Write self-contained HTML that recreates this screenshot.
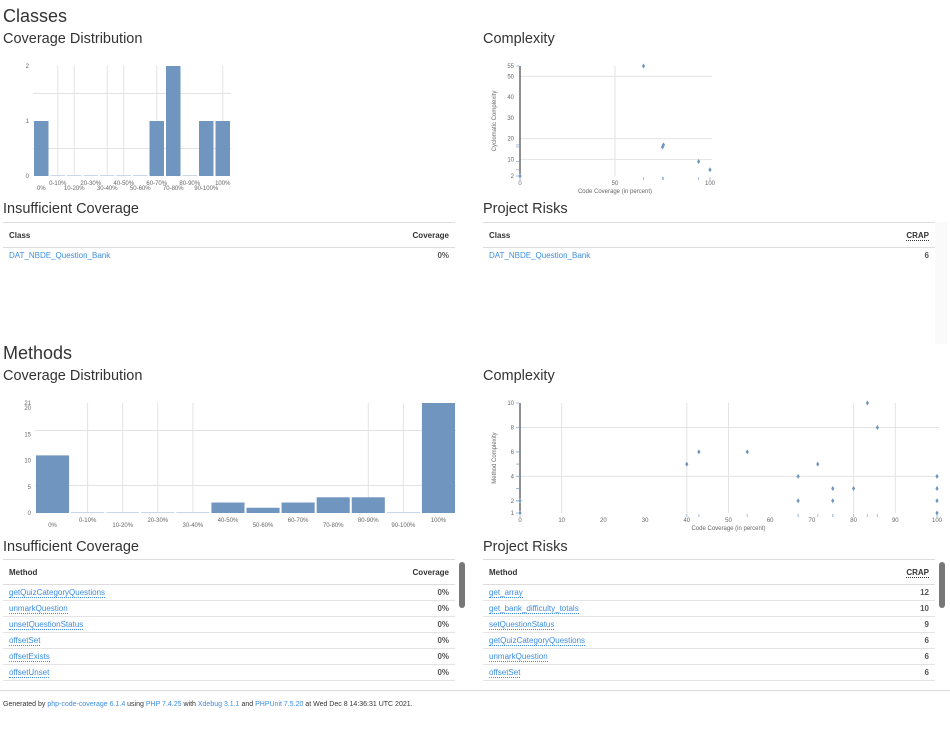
<!DOCTYPE html>
<html><head><meta charset="utf-8">
<style>
body{margin:0;width:950px;height:730px;background:#fff;font-family:"Liberation Sans",sans-serif;color:#333;position:relative;overflow:hidden}
.a{position:absolute;white-space:nowrap}
h2,h3{margin:0;font-weight:normal}
.h2{font-size:18px}
.h3{font-size:14.5px}
table{border-collapse:collapse;font-size:8px;position:absolute}
th{font-weight:bold;text-align:left;height:24px;padding:0 6px;border-top:1px solid #ddd;border-bottom:1px solid #ddd}
td{height:15px;padding:0 6px;border-bottom:1px solid #e4e4e4}
td.r,th.r{text-align:right}
a{color:#3c8ee3;text-decoration:none}
.dot a{border-bottom:1px dotted #3c8ee3}
.v{font-weight:bold;color:#555}
.sb{position:absolute;width:6px;height:46px;background:#777;border-radius:3px}
svg text{font-family:"Liberation Sans",sans-serif;fill:#666}
</style></head><body>
<div class="a h2" style="left:3px;top:6px">Classes</div>
<div class="a h3" style="left:3px;top:31px">Coverage Distribution</div>
<div class="a h3" style="left:483px;top:31px">Complexity</div>
<div class="a h3" style="left:3px;top:201px">Insufficient Coverage</div>
<div class="a h3" style="left:483px;top:201px">Project Risks</div>
<div class="a h2" style="left:3px;top:343px">Methods</div>
<div class="a h3" style="left:3px;top:368px">Coverage Distribution</div>
<div class="a h3" style="left:483px;top:368px">Complexity</div>
<div class="a h3" style="left:3px;top:539px">Insufficient Coverage</div>
<div class="a h3" style="left:483px;top:539px">Project Risks</div>

<table style="left:3px;top:222px;width:452px">
<tr><th>Class</th><th class="r">Coverage</th></tr>
<tr><td style="border:0"><a href="#">DAT_NBDE_Question_Bank</a></td><td class="r v" style="border:0">0%</td></tr>
</table>
<table style="left:483px;top:222px;width:452px">
<tr><th>Class</th><th class="r"><span style="border-bottom:1px dotted #333">CRAP</span></th></tr>
<tr><td style="border:0"><a href="#">DAT_NBDE_Question_Bank</a></td><td class="r v" style="border:0">6</td></tr>
</table>
<div class="a" style="left:935px;top:222px;width:12px;height:122px;background:#fafafa"></div>

<table style="left:3px;top:559px;width:452px">
<tr><th>Method</th><th class="r">Coverage</th></tr>
<tr class="dot"><td><a href="#">getQuizCategoryQuestions</a></td><td class="r v">0%</td></tr>
<tr class="dot"><td><a href="#">unmarkQuestion</a></td><td class="r v">0%</td></tr>
<tr class="dot"><td><a href="#">unsetQuestionStatus</a></td><td class="r v">0%</td></tr>
<tr class="dot"><td><a href="#">offsetSet</a></td><td class="r v">0%</td></tr>
<tr class="dot"><td><a href="#">offsetExists</a></td><td class="r v">0%</td></tr>
<tr class="dot"><td><a href="#">offsetUnset</a></td><td class="r v">0%</td></tr>
</table>
<div class="sb" style="left:459px;top:562px"></div>
<table style="left:483px;top:559px;width:452px">
<tr><th>Method</th><th class="r"><span style="border-bottom:1px dotted #333">CRAP</span></th></tr>
<tr class="dot"><td><a href="#">get_array</a></td><td class="r v">12</td></tr>
<tr class="dot"><td><a href="#">get_bank_difficulty_totals</a></td><td class="r v">10</td></tr>
<tr class="dot"><td><a href="#">setQuestionStatus</a></td><td class="r v">9</td></tr>
<tr class="dot"><td><a href="#">getQuizCategoryQuestions</a></td><td class="r v">6</td></tr>
<tr class="dot"><td><a href="#">unmarkQuestion</a></td><td class="r v">6</td></tr>
<tr class="dot"><td><a href="#">offsetSet</a></td><td class="r v">6</td></tr>
</table>
<div class="sb" style="left:939px;top:562px"></div>

<div class="a" style="left:0;top:690px;width:950px;border-top:1px solid #ddd"></div>
<div class="a" style="left:3px;top:701px;font-size:7px;color:#333">Generated by <a href="#">php-code-coverage 6.1.4</a> using <a href="#">PHP 7.4.25</a> with <a href="#">Xdebug 3.1.1</a> and <a href="#">PHPUnit 7.5.20</a> at Wed Dec 8 14:36:31 UTC 2021.</div>

<svg id="s" width="950" height="730" style="position:absolute;left:0;top:0"></svg>
<script>
const binLabels=["0%","0-10%","10-20%","20-30%","30-40%","40-50%","50-60%","60-70%","70-80%","80-90%","90-100%","100%"];
const classBins=[1,0,0,0,0,0,0,1,2,0,1,1];
const classYTicks=[0,1,2];
const methodBins=[11,0,0,0,0,2,1,2,3,3,0,21];
const methodYTicks=[0,5,10,15,20,21];
const classCov=[0,65,75,75.5,94,100];
const classCx=[2,55,16,17,9,5];
const classCxTicks=[2,10,20,30,40,50,55];
const methodCov=[0,0,40,42.9,54.5,66.7,66.7,71.4,75,75,80,83.3,85.7,100,100,100,100];
const methodCx=[1,2,5,6,6,4,2,5,3,2,3,10,8,4,3,2,1];
const methodCxTicks=[1,2,4,6,8,10];
const methodXTicks=[0,10,20,30,40,50,60,70,80,90,100];

const S=document.getElementById('s'),NS='http://www.w3.org/2000/svg';
function mk(t,at,txt){const e=document.createElementNS(NS,t);for(const k in at)e.setAttribute(k,at[k]);if(txt!==undefined)e.textContent=txt;S.appendChild(e);return e;}
const BAR='#7096c0',GRID='#e3e3e3';

function bars(bins,ticks,x0,x1,y0,y1,name,gridIdx){
  const max=ticks[ticks.length-1],bw=(x1-x0)/bins.length;
  const ys=v=>y0-(v/max)*(y0-y1);
  ticks.forEach(t=>{const l=mk('text',{x:x0-4,y:ys(t)+2,'font-size':6,'text-anchor':'end'},t);
    
    });
  gridIdx.forEach(i=>{const g=mk('line',{x1:x0+bw*(i+.5),x2:x0+bw*(i+.5),y1:y1,y2:y0,stroke:GRID,'stroke-width':1});
    
    });
  [0.25,0.75].forEach(f=>{const g=mk('line',{x1:x0,x2:x1,y1:y0-f*(y0-y1),y2:y0-f*(y0-y1),stroke:GRID});
    
    });
  bins.forEach((v,i)=>{const h=Math.max(1,ys(0)-ys(v));
    const r=mk('rect',{x:x0+bw*i+1,y:ys(0)-h,width:bw-2,height:h,fill:v?BAR:'#c9d7e8'});
    
    
    const l=mk('text',{x:x0+bw*(i+.5),y:y0+(i%2?9:14),'font-size':6,'text-anchor':'middle'},binLabels[i]);
    
    });
}
bars(classBins,classYTicks,33,231,176,66,'class-coverage',[1,2,4,5,7,8,11]);
bars(methodBins,methodYTicks,35,456,513,403,'method-coverage',[1,2,3,4,9,10,11]);

function scatter(xs,ys,yTicks,xTicks,x0,x1,y0,y1,ymin,ymax,gridY,gridX,ylab,name){
  const sx=v=>x0+v/100*(x1-x0),sy=v=>y0-(v-ymin)/(ymax-ymin)*(y0-y1);
  gridY.forEach(t=>{const g=mk('line',{x1:x0,x2:x1+2,y1:sy(t),y2:sy(t),stroke:GRID});
    
    });
  gridX.forEach(t=>{const g=mk('line',{x1:sx(t),x2:sx(t),y1:y1,y2:y0,stroke:GRID});
    
    });
  const ax=mk('line',{x1:x0,x2:x0,y1:y1,y2:y0,stroke:'#222'});
  
  
  yTicks.forEach(t=>{const l=mk('text',{x:x0-6,y:sy(t)+2,'font-size':6,'text-anchor':'end'},t);
    
    });
  xTicks.forEach(t=>{const l=mk('text',{x:sx(t),y:y0+9,'font-size':6,'text-anchor':'middle'},t);
    
    });
  const xl=mk('text',{x:(x0+x1)/2,y:y0+17,'font-size':6,'text-anchor':'middle'},'Code Coverage (in percent)');
  
  
  const cy=(y0+y1)/2;
  const yl=mk('text',{x:x0-24,y:cy,'font-size':6,'text-anchor':'middle',transform:`rotate(-90 ${x0-24} ${cy})`},ylab);
  
  
  xs.forEach((v,i)=>{const px=sx(v),py=sy(ys[i]);
    const rx=mk('line',{x1:px,x2:px,y1:y0+1,y2:y0+4,stroke:'#a9c0dc'});
    
    
    const ry=mk('line',{x1:x0-4,x2:x0-1,y1:py,y2:py,stroke:'#a9c0dc'});
    
    
    const p=mk('path',{d:`M${px} ${py-2.5}L${px+1.6} ${py}L${px} ${py+2.5}L${px-1.6} ${py}Z`,fill:BAR});
    
    });
}
scatter(classCov,classCx,classCxTicks,[0,50,100],520,710,176,66,2,55,[10,20,50],[50],'Cyclomatic Complexity','class-complexity');
scatter(methodCov,methodCx,methodCxTicks,methodXTicks,520,937,513,403,1,10,[4,8],[10,40,50,80,90],'Method Complexity','method-complexity');
</script>
</body></html>
